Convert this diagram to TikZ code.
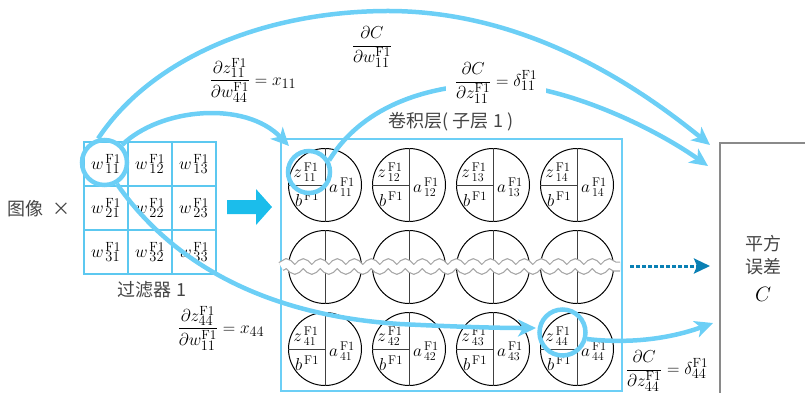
\documentclass[tikz,border=0pt]{standalone}
\usepackage{fontspec}
\newfontfamily\cjk{Noto Sans CJK SC}
\usetikzlibrary{arrows.meta,decorations.pathmorphing,calc}
\definecolor{lblue}{HTML}{6CCFF6}
\definecolor{gridblue}{HTML}{5CC8F0}
\definecolor{bigblue}{HTML}{1BBDEB}
\definecolor{dblue}{HTML}{0A80B4}
\definecolor{txtgray}{HTML}{444444}
\definecolor{boxgray}{HTML}{8A8A8A}
\tikzset{
 cell/.style={draw=gridblue,line width=1.6pt,minimum size=44pt,inner sep=0pt,font=\fontsize{19}{19}\selectfont},
 unitc/.style={circle,draw=black,line width=1pt,minimum size=73pt,inner sep=0pt},
 hl/.style={circle,draw=lblue,line width=4.5pt,inner sep=0pt,fill=none},
 flow/.style={draw=lblue,line width=4.5pt,-{Stealth[length=18pt,width=17pt,inset=5pt]}},
 cn/.style={font=\cjk\fontsize{18}{23}\selectfont,text=txtgray,inner sep=0pt},
 lbl/.style={font=\fontsize{19}{19}\selectfont,inner sep=1pt},
 ulbl/.style={font=\fontsize{18}{18}\selectfont,inner sep=0pt},
 part/.style={draw=black!75,line width=1pt},
 wave/.style={decorate,decoration={snake,segment length=17pt,amplitude=3pt}},
}
\begin{document}
\begin{tikzpicture}[x=1pt,y=-1pt]
\useasboundingbox (0,0) rectangle (805,392);
% filter grid
\foreach \r in {1,2,3}{
 \foreach \c in {1,2,3}{
  \node[cell] (w\r\c) at ({62+44*\c},{120+44*\r}) {$w\mkern2mu{}^{\mathrm{F1}}_{\r\c}$};
 }
}
\node[cn] (img) at (39,209) {图像\hspace{10pt}×};
\node[cn] (flt) at (152,290) {过滤器 1};
% big arrow
\fill[bigblue] (227,200) -- (256,200) -- (256,189) -- (272,207) -- (256,225) -- (256,214) -- (227,214) -- cycle;
% conv layer box
\node[draw=lblue,line width=2pt,minimum width=341pt,minimum height=252pt,inner sep=0pt,anchor=north west] (layer) at (280,138) {};
\node[cn] (layerlbl) at (451,122) {卷积层( 子层 1 )};
% units
\foreach \c/\x in {1/325,2/409,3/493,4/577}{
 \foreach \r/\y in {1/185,2/267,3/349}{
  \node[unitc] (u\r\c) at (\x,\y) {};
  \draw[part] (u\r\c.north) -- (u\r\c.south);
  \draw[part] (u\r\c.west) -- (u\r\c.center);
 }
 \foreach \r/\i in {1/1,3/4}{
  \node[ulbl] at ($(u\r\c.center)+(-19,-13)$) {$z\mkern2mu{}^{\mathrm{F1}}_{\i\c}$};
  \node[ulbl] at ($(u\r\c.center)+(-18,14)$) {$b\mkern2mu{}^{\mathrm{F1}}$};
  \node[ulbl] at ($(u\r\c.center)+(17,2)$) {$a\mkern2mu{}^{\mathrm{F1}}_{\i\c}$};
 }
}
% wavy band
\draw[wave,line width=10pt,black!35] (281,266.5) -- (620,266.5);
\draw[wave,line width=7.6pt,white] (281,266.5) -- (620,266.5);
% right box
\node[draw=boxgray,line width=2pt,minimum width=110pt,minimum height=270pt,inner sep=0pt,anchor=north west] (Cbox) at (719,142) {};
\node[cn,align=center] (Ctxt) at (763,255) {平方\\误差};
\node[font=\fontsize{20}{20}\selectfont] (Cvar) at (763,294) {$C$};
% highlight circles
\node[hl,minimum size=45pt] (hw) at (104.5,162.5) {};
\node[hl,minimum size=42pt] (hz) at (309,172) {};
\node[hl,minimum size=46pt] (hz44) at (562.5,332.5) {};
% target points
\coordinate (t1) at ($(Cbox.north west)+(-9,3)$);
\coordinate (t2) at ($(Cbox.north west)+(-11,24)$);
\coordinate (t3) at ($(Cbox.north west)+(-6,181)$);
\coordinate (t4) at ($(Cbox.north west)+(-9,124)$);
\coordinate (t5) at (536,328);
% curves
\draw[flow] (hw.105) .. controls (150,60) and (260,12) .. (385,11) .. controls (520,10) and (630,80) .. (t1);
\draw[flow] (hw.45) .. controls (160,108) and (245,100) .. (289,146);
\draw[flow] (hw.-60) .. controls (170,260) and (260,315) .. (400,324) .. controls (460,327) and (500,328) .. (t5);
\draw[flow] (hz.30) .. controls (360,110) and (420,85) .. (495,84) .. controls (560,84) and (650,125) .. (t2);
\draw[flow] (hz44.-15) .. controls (640,345) and (680,335) .. (t3);
% dotted arrow
\draw[dblue,line width=3pt,dash pattern=on 3.5pt off 2.5pt,-{Stealth[length=16pt,width=15pt,inset=3pt]}] (630,266) -- (t4);
% labels
\node[lbl] (L1) at (253,80) {$\displaystyle\frac{\partial z^{\mathrm{F1}}_{11}}{\partial w^{\mathrm{F1}}_{44}}=x_{11}$};
\node[lbl] (L2) at (372,47) {$\displaystyle\frac{\partial C}{\partial w^{\mathrm{F1}}_{11}}$};
\node[lbl,fill=white,inner xsep=9pt] (L3) at (496,83) {$\displaystyle\frac{\partial C}{\partial z^{\mathrm{F1}}_{11}}=\delta^{\mathrm{F1}}_{11}$};
\node[lbl] (L4) at (221,328) {$\displaystyle\frac{\partial z^{\mathrm{F1}}_{44}}{\partial w^{\mathrm{F1}}_{11}}=x_{44}$};
\node[lbl] (L5) at (667,371) {$\displaystyle\frac{\partial C}{\partial z^{\mathrm{F1}}_{44}}=\delta^{\mathrm{F1}}_{44}$};
\end{tikzpicture}
\end{document}
